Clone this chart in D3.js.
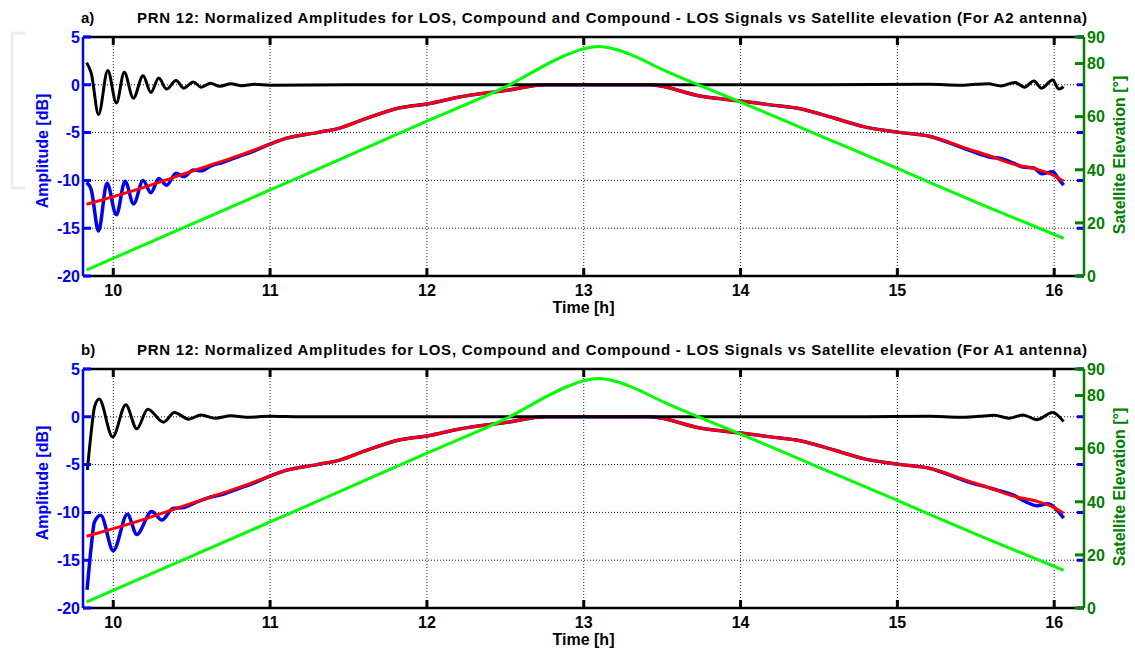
<!DOCTYPE html>
<html>
<head>
<meta charset="utf-8">
<script src="https://cdnjs.cloudflare.com/ajax/libs/d3/7.8.5/d3.min.js"></script>
<style>
  body { margin: 0; background: #fff; }
  text { font-family: Arial, "Liberation Sans", sans-serif; font-weight: bold; }
</style>
</head>
<body>
<div id="chart"></div>
<script>
// tick values
var timeTicks = [10, 11, 12, 13, 14, 15, 16];
var ampTicks = [-20, -15, -10, -5, 0, 5];
var ampGrid = [-15, -10, -5, 0];
var elevTicks = [0, 20, 40, 60, 80, 90];

// LOS amplitude [t, dB] (same model for both antennas)
var losAmp = [[9.83,-12.5],[10.0,-11.7],[10.2,-10.7],[10.4,-9.6],[10.6,-8.5],[10.8,-7.4],[11.0,-6.2],
  [11.1,-5.6],[11.3,-5.0],[11.45,-4.5],[11.6,-3.6],[11.83,-2.4],[12.0,-2.0],[12.2,-1.3],[12.5,-0.6],
  [12.76,0],[13.42,0],[13.75,-1.2],[14.0,-1.7],[14.19,-2.1],[14.38,-2.5],[14.6,-3.5],[14.79,-4.4],
  [15.0,-4.95],[15.21,-5.4],[15.45,-6.7],[15.6,-7.5],[15.74,-8.3],[15.9,-8.9],[16.0,-9.5],[16.06,-10.1]];

// satellite elevation [t, deg]
var elevation = [[9.83,2.3],[10.5,19.5],[11.0,32.4],[11.5,45.3],[12.0,58.3],[12.5,71.2],[12.9,83.5],
  [13.0,85.6],[13.1,86.4],[13.2,85.4],[13.3,83.4],[13.5,77.8],[14.0,65.5],[14.5,53.0],[15.0,40.5],
  [15.5,27.8],[16.06,14.2]];

// compound amplitude, A2 antenna
var compoundA2 = [[9.83,-10.2],[9.86,-11.0],[9.906,-15.3],[9.96,-10.3],[10.02,-13.6],[10.075,-10.1],
  [10.13,-12.45],[10.19,-10.0],[10.24,-11.3],[10.29,-9.8],[10.34,-10.5],[10.40,-9.25],[10.45,-9.6],
  [10.51,-8.9],[10.56,-9.0],[10.62,-8.5],[10.7,-8.1],[10.8,-7.5],[10.9,-6.9],[11.0,-6.2],[11.1,-5.6],
  [11.3,-5.0],[11.45,-4.5],[11.6,-3.6],[11.83,-2.4],[12.0,-2.0],[12.2,-1.3],[12.5,-0.6],[12.76,0],
  [13.42,0],[13.75,-1.2],[14.0,-1.7],[14.19,-2.1],[14.38,-2.5],[14.6,-3.5],[14.79,-4.4],[15.0,-4.95],
  [15.21,-5.4],[15.45,-6.8],[15.6,-7.6],[15.66,-7.7],[15.74,-8.2],[15.8,-8.6],[15.87,-8.7],
  [15.92,-9.3],[15.99,-9.1],[16.03,-9.9],[16.06,-10.5]];

// compound - LOS, A2 antenna
var diffA2 = [[9.83,2.3],[9.86,1.2],[9.906,-3.1],[9.965,1.5],[10.02,-1.9],[10.07,1.3],[10.128,-1.4],
  [10.19,0.94],[10.24,-0.8],[10.29,0.7],[10.34,-0.45],[10.4,0.45],[10.45,-0.35],[10.51,0.3],
  [10.56,-0.25],[10.62,0.15],[10.68,-0.15],[10.75,0.1],[10.82,-0.1],[10.9,0.05],[11.0,-0.05],
  [11.5,0],[14.5,0],[15.2,0.05],[15.4,-0.05],[15.5,0.05],[15.58,0.1],[15.66,-0.12],[15.75,0.25],
  [15.81,-0.25],[15.87,0.4],[15.92,-0.35],[15.99,0.5],[16.03,-0.45],[16.06,-0.2]];

// compound amplitude, A1 antenna
var compoundA1 = [[9.833,-18.1],[9.86,-13.5],[9.88,-11.0],[9.92,-10.3],[10.0,-14.0],[10.09,-10.2],
  [10.15,-12.3],[10.245,-9.9],[10.31,-10.8],[10.38,-9.6],[10.45,-9.5],[10.52,-9.0],[10.6,-8.5],
  [10.7,-8.1],[10.8,-7.5],[10.9,-6.9],[11.0,-6.2],[11.1,-5.6],[11.3,-5.0],[11.45,-4.5],[11.6,-3.6],
  [11.83,-2.4],[12.0,-2.0],[12.2,-1.3],[12.5,-0.6],[12.76,0],[13.42,0],[13.75,-1.2],[14.0,-1.7],
  [14.19,-2.1],[14.38,-2.5],[14.6,-3.5],[14.79,-4.4],[15.0,-4.95],[15.21,-5.4],[15.45,-6.8],
  [15.6,-7.5],[15.74,-8.2],[15.82,-8.9],[15.89,-9.3],[15.96,-9.1],[16.02,-9.8],[16.06,-10.6]];

// compound - LOS, A1 antenna
var diffA1 = [[9.835,-5.55],[9.86,-1.5],[9.88,1.0],[9.91,1.85],[9.996,-2.1],[10.08,1.26],[10.15,-1.26],
  [10.22,0.8],[10.32,-0.56],[10.39,0.45],[10.48,-0.25],[10.56,0.2],[10.65,-0.15],[10.75,0.1],
  [10.85,-0.05],[11.0,0.05],[11.2,0],[14.8,0],[15.2,0.05],[15.4,-0.05],[15.52,0.05],[15.62,0.15],
  [15.71,-0.15],[15.8,0.2],[15.89,-0.3],[15.99,0.45],[16.06,-0.5]];

var panels = [
  { tag: "a)", antenna: "A2", top: 37, compound: compoundA2, diff: diffA2 },
  { tag: "b)", antenna: "A1", top: 369, compound: compoundA1, diff: diffA1 }
];

var width = 1135;
var height = 651;
var left = 83, right = 1084, plotHeight = 239;

var svg = d3
  .select("#chart")
  .append("svg")
  .attr("width", width)
  .attr("height", height);

// faint leftover frame at the left edge
svg
  .append("path")
  .attr("d", "M25,33 H12 V188 H25")
  .attr("fill", "none")
  .attr("stroke", "#ececec")
  .attr("stroke-width", 3);

var xScale = d3.scaleLinear().domain([9.807, 16.19]).range([left, right]);

panels.forEach(function(p) {
  var top = p.top, bottom = p.top + plotHeight;
  var yAmp = d3.scaleLinear().domain([-20, 5]).range([bottom, top]);
  var yElev = d3.scaleLinear().domain([0, 90]).range([bottom, top]);
  var g = svg.append("g");

  // grid
  g.selectAll(".vgrid")
    .data(timeTicks)
    .enter()
    .append("line")
    .attr("x1", function(d) { return xScale(d); })
    .attr("x2", function(d) { return xScale(d); })
    .attr("y1", top)
    .attr("y2", bottom)
    .attr("stroke", "#222")
    .attr("stroke-width", 1)
    .attr("stroke-dasharray", "1,2");

  g.selectAll(".hgrid")
    .data(ampGrid)
    .enter()
    .append("line")
    .attr("x1", left)
    .attr("x2", right)
    .attr("y1", function(d) { return yAmp(d); })
    .attr("y2", function(d) { return yAmp(d); })
    .attr("stroke", "#0000ff")
    .attr("stroke-width", 1)
    .attr("stroke-dasharray", "1,2");

  // series
  var ampLine = d3.line()
    .x(function(d) { return xScale(d[0]); })
    .y(function(d) { return yAmp(d[1]); })
    .curve(d3.curveMonotoneX);
  var elevLine = d3.line()
    .x(function(d) { return xScale(d[0]); })
    .y(function(d) { return yElev(d[1]); })
    .curve(d3.curveMonotoneX);

  g.append("path").attr("d", ampLine(p.compound))
    .attr("fill", "none").attr("stroke", "#0000ff").attr("stroke-width", 3.5);
  g.append("path").attr("d", ampLine(losAmp))
    .attr("fill", "none").attr("stroke", "#ff0000").attr("stroke-width", 3);
  g.append("path").attr("d", ampLine(p.diff))
    .attr("fill", "none").attr("stroke", "#000").attr("stroke-width", 3);
  g.append("path").attr("d", elevLine(elevation))
    .attr("fill", "none").attr("stroke", "#00ff00").attr("stroke-width", 3);

  // box: top and bottom in black
  g.append("line").attr("x1", left).attr("x2", right).attr("y1", top).attr("y2", top)
    .attr("stroke", "#000").attr("stroke-width", 2.5);
  g.append("line").attr("x1", left).attr("x2", right).attr("y1", bottom).attr("y2", bottom)
    .attr("stroke", "#000").attr("stroke-width", 2.5);

  // x ticks top and bottom
  g.selectAll(".xt")
    .data(timeTicks)
    .enter()
    .append("path")
    .attr("d", function(d) {
      var x = xScale(d);
      return "M" + x + "," + top + "V" + (top + 8) + "M" + x + "," + bottom + "V" + (bottom - 8);
    })
    .attr("stroke", "#000")
    .attr("stroke-width", 3);

  g.selectAll(".xl")
    .data(timeTicks)
    .enter()
    .append("text")
    .attr("x", function(d) { return xScale(d); })
    .attr("y", bottom + 20)
    .attr("text-anchor", "middle")
    .style("font-size", "16px")
    .text(function(d) { return d; });

  // left amplitude axis
  g.append("line").attr("x1", left).attr("x2", left).attr("y1", top).attr("y2", bottom)
    .attr("stroke", "#0000ff").attr("stroke-width", 2.5);
  g.selectAll(".yt")
    .data(ampTicks)
    .enter()
    .append("path")
    .attr("d", function(d) {
      var y = yAmp(d);
      return "M" + left + "," + y + "H" + (left + 8) + "M" + (right - 7) + "," + y + "H" + right;
    })
    .attr("stroke", "#0000ff")
    .attr("stroke-width", 3);
  g.selectAll(".yl")
    .data(ampTicks)
    .enter()
    .append("text")
    .attr("x", left - 3)
    .attr("y", function(d) { return yAmp(d); })
    .attr("dy", "0.36em")
    .attr("text-anchor", "end")
    .attr("fill", "#0000ff")
    .style("font-size", "16px")
    .text(function(d) { return d; });

  // right elevation axis
  g.append("line").attr("x1", right).attr("x2", right).attr("y1", top).attr("y2", bottom)
    .attr("stroke", "#008000").attr("stroke-width", 2.5);
  g.selectAll(".et")
    .data(elevTicks)
    .enter()
    .append("line")
    .attr("x1", right - 9)
    .attr("x2", right)
    .attr("y1", function(d) { return yElev(d); })
    .attr("y2", function(d) { return yElev(d); })
    .attr("stroke", "#008000")
    .attr("stroke-width", 3);
  g.selectAll(".el")
    .data(elevTicks)
    .enter()
    .append("text")
    .attr("x", right + 3)
    .attr("y", function(d) { return yElev(d); })
    .attr("dy", "0.36em")
    .attr("fill", "#008000")
    .style("font-size", "16px")
    .text(function(d) { return d; });

  // titles and labels
  g.append("text")
    .attr("x", 81)
    .attr("y", top - 14)
    .style("font-size", "15px")
    .text(p.tag);
  g.append("text")
    .attr("x", 137)
    .attr("y", top - 14)
    .attr("textLength", 950)
    .attr("lengthAdjust", "spacing")
    .style("font-size", "15px")
    .text("PRN 12: Normalized Amplitudes for LOS, Compound and Compound - LOS Signals vs Satellite elevation (For " + p.antenna + " antenna)");

  g.append("text")
    .attr("x", (left + right) / 2)
    .attr("y", bottom + 37)
    .attr("text-anchor", "middle")
    .style("font-size", "16px")
    .text("Time [h]");

  g.append("text")
    .attr("transform", "translate(48," + (top + 114) + ") rotate(-90)")
    .attr("text-anchor", "middle")
    .attr("fill", "#0000ff")
    .style("font-size", "16px")
    .text("Amplitude [dB]");

  g.append("text")
    .attr("transform", "translate(1125," + (top + 118) + ") rotate(-90)")
    .attr("text-anchor", "middle")
    .attr("fill", "#008000")
    .style("font-size", "16px")
    .text("Satellite Elevation [°]");
});
</script>
</body>
</html>
